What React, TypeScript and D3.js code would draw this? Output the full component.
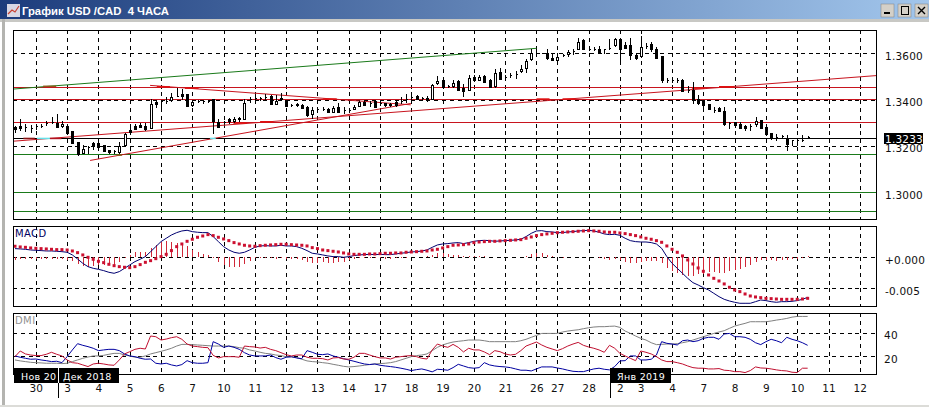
import React, { useRef, useEffect } from "react";
import * as d3 from "d3";

const width = 929;
const height = 407;

// candles, one every 4 hours
const opens = [
  1.3279,1.3283,1.3279,1.3276,1.3283,1.3286,1.3298,1.3302,1.3298,1.3286,
  1.3286,1.3262,1.3214,1.3168,1.3195,1.3210,1.3213,1.3203,1.3183,1.3175,
  1.3172,1.3203,1.3266,1.3283,1.3288,1.3286,1.3276,1.3387,1.3391,1.3391,
  1.3396,1.3416,1.3424,1.3422,1.3374,1.3391,1.3393,1.3394,1.3399,1.3302,
  1.3301,1.3316,1.3305,1.3315,1.3315,1.3399,1.3406,1.3404,1.3409,1.3412,
  1.3381,1.3407,1.3397,1.3376,1.3381,1.3377,1.3367,1.3338,1.3358,1.3360,
  1.3360,1.3347,1.3367,1.3355,1.3354,1.3358,1.3373,1.3390,1.3384,1.3393,
  1.3384,1.3384,1.3381,1.3387,1.3394,1.3401,1.3410,1.3416,1.3406,1.3404,
  1.3401,1.3468,1.3485,1.3458,1.3459,1.3478,1.3449,1.3439,1.3498,1.3485,
  1.3502,1.3482,1.3456,1.3518,1.3498,1.3505,1.3511,1.3520,1.3537,1.3574,
  1.3600,1.3600,1.3600,1.3580,1.3571,1.3589,1.3596,1.3607,1.3619,1.3655,
  1.3619,1.3619,1.3617,1.3615,1.3623,1.3635,1.3661,1.3632,1.3636,1.3593,
  1.3586,1.3629,1.3638,1.3619,1.3586,1.3485,1.3484,1.3485,1.3485,1.3439,
  1.3439,1.3401,1.3396,1.3380,1.3355,1.3363,1.3351,1.3298,1.3301,1.3295,
  1.3285,1.3283,1.3292,1.3309,1.3279,1.3255,1.3237,1.3240,1.3229,1.3222,
  1.3222,1.3226,1.3236,
];
const closes = [
  1.3272,1.3275,1.3279,1.3276,1.3283,1.3286,1.3298,1.3302,1.3282,1.3295,
  1.3255,1.3211,1.3165,1.3187,1.3195,1.3197,1.3196,1.3175,1.3171,1.3171,
  1.3197,1.3252,1.3257,1.3273,1.3282,1.3272,1.3381,1.3378,1.3391,1.3391,
  1.3410,1.3416,1.3416,1.3370,1.3388,1.3391,1.3393,1.3394,1.3305,1.3279,
  1.3301,1.3304,1.3316,1.3321,1.3384,1.3399,1.3406,1.3404,1.3409,1.3378,
  1.3394,1.3399,1.3373,1.3376,1.3374,1.3364,1.3334,1.3355,1.3358,1.3360,
  1.3344,1.3363,1.3344,1.3355,1.3354,1.3368,1.3390,1.3377,1.3384,1.3367,
  1.3384,1.3377,1.3374,1.3376,1.3394,1.3401,1.3410,1.3401,1.3406,1.3396,
  1.3462,1.3479,1.3453,1.3458,1.3472,1.3442,1.3435,1.3491,1.3481,1.3496,
  1.3476,1.3453,1.3514,1.3489,1.3498,1.3505,1.3511,1.3531,1.3566,1.3600,
  1.3600,1.3600,1.3577,1.3568,1.3583,1.3589,1.3604,1.3607,1.3648,1.3615,
  1.3619,1.3619,1.3606,1.3615,1.3623,1.3658,1.3617,1.3623,1.3589,1.3580,
  1.3626,1.3629,1.3615,1.3579,1.3481,1.3485,1.3484,1.3485,1.3437,1.3439,
  1.3399,1.3383,1.3376,1.3357,1.3355,1.3348,1.3292,1.3298,1.3291,1.3278,
  1.3276,1.3283,1.3306,1.3275,1.3252,1.3232,1.3237,1.3240,1.3208,1.3222,
  1.3222,1.3226,1.3236,
];
const highs = [
  1.3286,1.3315,1.3295,1.3291,1.3291,1.3295,1.3309,1.3327,1.3338,1.3309,
  1.3286,1.3266,1.3219,1.3204,1.3200,1.3219,1.3219,1.3204,1.3185,1.3185,
  1.3219,1.3257,1.3283,1.3295,1.3301,1.3301,1.3404,1.3399,1.3399,1.3410,
  1.3427,1.3450,1.3448,1.3424,1.3391,1.3399,1.3399,1.3399,1.3399,1.3315,
  1.3309,1.3321,1.3325,1.3325,1.3404,1.3413,1.3416,1.3413,1.3423,1.3420,
  1.3419,1.3427,1.3401,1.3381,1.3388,1.3381,1.3373,1.3367,1.3367,1.3367,
  1.3363,1.3373,1.3384,1.3367,1.3363,1.3376,1.3393,1.3393,1.3393,1.3399,
  1.3390,1.3387,1.3387,1.3394,1.3410,1.3423,1.3420,1.3420,1.3413,1.3416,
  1.3468,1.3502,1.3488,1.3465,1.3485,1.3485,1.3468,1.3508,1.3505,1.3508,
  1.3508,1.3488,1.3534,1.3535,1.3507,1.3517,1.3525,1.3548,1.3574,1.3617,
  1.3617,1.3603,1.3617,1.3600,1.3600,1.3597,1.3615,1.3617,1.3666,1.3661,
  1.3632,1.3626,1.3632,1.3621,1.3664,1.3666,1.3664,1.3649,1.3666,1.3600,
  1.3675,1.3643,1.3649,1.3626,1.3589,1.3494,1.3491,1.3494,1.3488,1.3459,
  1.3476,1.3420,1.3401,1.3381,1.3370,1.3370,1.3370,1.3305,1.3305,1.3305,
  1.3292,1.3295,1.3324,1.3312,1.3283,1.3258,1.3252,1.3249,1.3249,1.3226,
  1.3226,1.3246,1.3243,
];
const lows = [
  1.3257,1.3266,1.3259,1.3257,1.3269,1.3276,1.3286,1.3295,1.3279,1.3279,
  1.3252,1.3208,1.3157,1.3165,1.3165,1.3185,1.3193,1.3174,1.3165,1.3165,
  1.3165,1.3200,1.3252,1.3269,1.3278,1.3266,1.3272,1.3363,1.3352,1.3381,
  1.3391,1.3410,1.3399,1.3367,1.3370,1.3384,1.3381,1.3387,1.3252,1.3276,
  1.3295,1.3295,1.3301,1.3305,1.3312,1.3384,1.3396,1.3394,1.3399,1.3376,
  1.3377,1.3396,1.3370,1.3367,1.3367,1.3361,1.3324,1.3319,1.3341,1.3351,
  1.3341,1.3341,1.3341,1.3338,1.3341,1.3355,1.3370,1.3373,1.3370,1.3363,
  1.3373,1.3370,1.3370,1.3370,1.3381,1.3387,1.3399,1.3399,1.3399,1.3391,
  1.3399,1.3463,1.3450,1.3450,1.3450,1.3436,1.3413,1.3436,1.3476,1.3482,
  1.3473,1.3449,1.3449,1.3485,1.3485,1.3494,1.3491,1.3517,1.3517,1.3568,
  1.3589,1.3597,1.3571,1.3568,1.3568,1.3583,1.3586,1.3592,1.3615,1.3615,
  1.3609,1.3609,1.3600,1.3597,1.3615,1.3629,1.3560,1.3617,1.3571,1.3571,
  1.3579,1.3617,1.3607,1.3574,1.3471,1.3471,1.3473,1.3473,1.3433,1.3427,
  1.3381,1.3378,1.3352,1.3355,1.3344,1.3346,1.3286,1.3275,1.3280,1.3275,
  1.3266,1.3266,1.3283,1.3272,1.3243,1.3226,1.3223,1.3232,1.3178,1.3200,
  1.3200,1.3219,1.3229,
];

// MACD panel, in thousandths
const macdLine = [
  1.40,1.35,1.29,1.18,1.13,1.08,1.02,1.02,0.97,0.91,
  0.81,0.38,-0.27,-0.97,-1.51,-1.78,-1.94,-2.15,-2.42,-2.58,
  -2.31,-1.78,-1.24,-0.70,-0.32,0.11,0.91,1.72,2.53,3.07,
  3.60,3.98,4.25,4.36,4.14,4.04,3.98,3.98,3.34,2.53,
  1.72,1.18,0.81,0.65,0.81,1.18,1.61,1.83,1.88,1.83,
  1.83,1.94,1.83,1.83,1.72,1.45,1.08,
  0.65,0.54,0.38,0.22,0.11,0.11,0,0.11,0.27,0.38,
  0.43,0.48,0.43,0.48,0.43,0.43,0.54,0.65,0.75,0.86,
  0.91,1.02,1.18,1.61,1.99,2.15,2.21,2.31,2.37,2.21,
  2.37,2.58,2.69,2.74,2.69,2.58,2.64,2.69,2.74,2.80,
  2.91,3.34,3.87,4.25,4.30,4.14,4.09,3.98,3.98,4.09,
  4.14,4.25,4.30,4.36,4.25,4.04,3.77,3.66,3.71,3.55,
  3.07,2.69,2.53,2.47,2.47,2.37,2.15,1.45,0.11,-0.97,
  -1.78,-2.58,-3.39,-4.09,-4.47,-4.90,-5.27,-5.81,-6.35,-6.78,
  -7.05,-7.26,-7.42,-7.42,-7.42,-7.16,-6.89,-6.99,-7.16,-7.26,
  -7.16,-7.16,-7.10,-6.99,-6.78,-6.46,
];
const macdSignal = [
  1.78,1.67,1.61,1.51,1.45,1.40,1.35,1.29,1.24,1.24,
  1.18,1.02,0.75,0.38,0,-0.32,-0.65,-0.86,-1.13,-1.35,
  -1.51,-1.61,-1.67,-1.51,-1.18,-0.81,-0.54,-0.22,0.11,0.48,
  1.08,1.72,2.15,2.58,2.91,3.23,3.44,3.66,3.50,3.23,
  2.96,2.69,2.37,2.15,1.94,1.83,1.78,1.88,1.94,1.99,
  2.04,2.10,2.10,2.04,1.99,1.94,1.83,
  1.56,1.40,1.18,1.08,0.97,0.86,0.70,0.54,0.48,0.48,
  0.48,0.54,0.54,0.59,0.65,0.65,0.70,0.70,0.81,0.86,
  0.91,0.97,1.02,1.18,1.29,1.51,1.72,1.94,1.99,2.04,
  2.15,2.37,2.47,2.53,2.58,2.58,2.64,2.69,2.74,2.80,
  2.85,3.07,3.28,3.50,3.66,3.77,3.87,3.98,4.04,4.09,
  4.14,4.20,4.25,4.30,4.25,4.20,4.09,4.04,4.04,3.93,
  3.82,3.66,3.50,3.28,3.07,2.91,2.69,2.42,1.83,1.29,
  0.81,0.22,-0.43,-1.08,-1.72,-2.26,-2.85,-3.39,-3.82,-4.30,
  -4.84,-5.27,-5.54,-5.92,-6.24,-6.40,-6.51,-6.62,-6.67,-6.73,
  -6.78,-6.78,-6.78,-6.78,-6.73,-6.62,
];

// DMI panel
const plusDI = [
  20.3,19.2,18.3,17.5,17.7,16.9,16.3,15.5,15.8,14.6,
  19.7,25.4,30.7,29.3,28.2,26.8,24.8,25.4,25.9,25.9,
  24.8,22,20.3,19.7,18.3,17.5,17.7,14.1,13.5,14.1,
  12.7,11.8,13,16.3,14.6,14.1,14.1,14.6,32.4,30.4,
  27.6,28.7,27.6,25.9,23.1,21.1,20.3,20.3,20.3,21.1,
  18.9,17.5,19.2,19.7,18.6,18,24.8,
  23.4,21.7,21.4,22,20.3,19.2,18,16.9,15.8,14.6,
  13.5,13,13.5,12.4,11.8,11.3,10.7,9.9,9,7.9,
  8.7,9.3,8.2,6.8,9,8.7,8.2,10.4,13.2,11.8,
  10.4,9.9,10.4,14.6,12.7,11.8,11.3,11,10.4,9.3,
  8.2,8.2,7.6,9.3,11,11,11,10.1,9.3,8.2,
  7.3,7,7,8.2,9.3,9.9,9,8.5,11.3,16.1,
  16.3,20.3,20.3,16.9,16.9,17.5,21.1,32.4,31,30.4,
  29.6,33.2,33.8,32.4,33.2,35.2,36.1,36.1,34.4,38.9,
  39.4,36.6,36.6,36.1,34.4,31.5,29.9,32.4,34.4,33.2,
  31.5,36.1,34.4,33.2,31.5,29.3,
];
const minusDI = [
  19.7,24.5,22,21.1,20.6,20.6,21.7,23.4,21.7,20.3,
  16.9,14.6,14.1,12.7,11.3,13.5,14.1,13.5,12.7,12.4,
  16.9,22,23.9,25.9,26.8,26.2,37.2,36.6,33.8,34.6,
  35.8,36.6,34.4,30.4,28.7,28.2,27.6,27.3,20.8,18.6,
  19.7,19.7,19.7,19.2,28.7,28.2,27.9,27,27.6,25.9,
  24.8,23.1,21.4,20.3,21.1,21.1,19.2,
  18.3,18.3,18,16.9,18.6,18.9,17.7,17.5,19.2,22.5,
  22.5,21.1,19.7,18.6,18.6,17.7,19.2,19.7,20.3,20.6,
  19.7,18.3,17.7,25.4,30.4,28.7,27.6,30.1,27.6,23.7,
  26.8,25.4,25.4,23.7,21.4,24.8,23.9,22,21.1,21.7,
  24.8,28.7,30.4,32.1,29.6,27.6,26.2,24.8,26.5,28.7,
  30.4,31.8,29.3,27.9,26.8,25.4,23.4,29.3,26.8,22.5,
  20.3,18.3,16.3,24.5,23.4,22,19.7,16.9,15.5,15.5,
  14.6,13.5,11.8,10.4,9.9,9.9,9.3,9.3,9.6,8.2,
  7.9,7,7,6.2,7.9,11,10.1,9.9,9.3,8.5,
  7.9,7.6,6.5,6.2,9.9,9.9,
];
const adx = [
  16.9,16.1,15.5,14.9,14.6,14.4,14.1,14.1,14.1,13.8,
  14.1,15.5,16.9,18.3,19.4,20.3,20.3,20.8,21.7,22.5,
  22.5,21.1,20.3,19.2,19.2,20.3,22,23.1,24.2,25.4,
  26.8,28.7,30.1,30.1,29.9,29.6,29.3,29,28.7,28.7,
  28.7,28.7,28.2,27.3,26.8,25.4,24.5,23.4,22.5,22,
  21.1,20.6,19.7,19.4,18.9,17.5,16.1,
  15.5,15.2,14.6,14.1,13.2,12.4,11.5,11,11.3,11.8,
  12.4,13,13.5,13.8,14.1,14.6,15.5,16.9,18.3,19.7,
  20.6,21.1,22,24.8,27.6,29.6,31,32.1,32.7,33.2,
  33.8,33.8,33.8,33.2,32.4,32.4,32.4,32.4,32.4,32.4,
  33.2,34.4,36.1,37.7,39.4,39.4,39.4,39.4,40.6,41.4,
  42,42.5,43.4,44.2,44.8,45.1,45.1,45.4,45.6,44.5,
  41.4,39.4,37.2,35.2,33.8,31.5,29.9,30.1,30.4,30.4,
  30.7,31.5,32.4,33.8,35.2,36.6,38,39.4,40.6,41.7,
  43.7,45.6,46.8,47.9,49.3,49.3,49.3,49.3,49.9,50.7,
  51.3,52.1,53.2,53.8,53.8,53.8,
];

// time axis: candle index of each day and its label
const dayIndex = [4,10,16,22,28,34,40,46,52,58,64,70,76,82,88,94,100,104,110,116,120,126,132,138,144,150,156,162];
const dayLabels = ["30","3","4","5","6","7","10","11","12","13","14","17","18","19","20","21","26","27","28","2","3","4","7","8","9","10","11","12"];

const priceTicks = [1.36, 1.34, 1.32, 1.30];
const macdTicks = [0, -5];
const dmiTicks = [40, 20];

// drawn levels and trend lines
const redLevels = [1.3453, 1.3402, 1.3302];
const greenLevels = [1.3164, 1.3, 1.2918];
const lastPrice = 1.3233;
const trendLines = [
  { from: [-0.4, 1.3446], to: [100, 1.3622], color: "#1a7a1a" },
  { from: [-0.4, 1.3221], to: [165.6, 1.3505], color: "#c8141e" },
  { from: [14.4, 1.3138], to: [75.9, 1.3384], color: "#c8141e" },
  { from: [25.9, 1.3462], to: [75.9, 1.3378], color: "#c8141e" },
];

// short coloured stretches where the drawn lines cross
const accents = [
  { from: 1.6, to: 3.8, price: 1.3233, color: "#8a1414" },
  { from: 4.2, to: 6.7, price: 1.3233, color: "#66e0e8" },
  { from: 6.7, to: 8.9, price: 1.3233, color: "#b01420" },
  { from: 37.4, to: 38.5, price: 1.3233, color: "#66e0e8" },
  { from: 5.4, to: 7.9, price: 1.3458, color: "#8b5a1a" },
  { from: 19.5, to: 20.5, price: 1.3161, color: "#8b5a1a" },
  { from: 27.2, to: 29.7, price: 1.3456, color: "#e01010" },
  { from: 32.6, to: 35.2, price: 1.345, color: "#e01010" },
  { from: 41.9, to: 44.4, price: 1.3299, color: "#e01010" },
  { from: 47, to: 49.5, price: 1.3305, color: "#e01010" },
  { from: 59.1, to: 61.7, price: 1.3403, color: "#e01010" },
  { from: 100, to: 102.5, price: 1.3403, color: "#e01010" },
  { from: 105, to: 107.4, price: 1.3403, color: "#e01010" },
  { from: 129.8, to: 132.3, price: 1.345, color: "#e01010" },
  { from: 135, to: 137.8, price: 1.3456, color: "#e01010" },
];

const left = 13;
const right = 877;
const font = "'DejaVu Sans', sans-serif";

export default function App() {
  const ref = useRef<SVGSVGElement | null>(null);

  useEffect(() => {
    const svg = d3.select(ref.current);
    svg.selectAll("*").remove();

    const x = d3.scaleLinear().domain([0, 162]).range([15, 859.8]);
    const yPrice = d3.scaleLinear().domain([1.2881, 1.3701]).range([220, 30]);
    const yMacd = d3.scaleLinear().domain([-8.02, 5.05]).range([307, 226]);
    const yDmi = d3.scaleLinear().domain([4.15, 56.7]).range([375, 313]);

    // window frame
    svg.append("rect").attr("width", width).attr("height", height).attr("fill", "#ffffff");
    const grad = svg.append("defs").append("linearGradient").attr("id", "title");
    grad.append("stop").attr("offset", "0").attr("stop-color", "#1c3c7c");
    grad.append("stop").attr("offset", "1").attr("stop-color", "#a2c6ec");
    svg.append("rect").attr("width", width).attr("height", 19).attr("fill", "url(#title)");
    svg.append("rect").attr("y", 19).attr("width", width).attr("height", 3).attr("fill", "#c8c8c4");
    svg.append("rect").attr("x", 2).attr("y", 19).attr("width", 3).attr("height", 386).attr("fill", "#b4b4b0");
    svg.append("rect").attr("y", 405).attr("width", width).attr("height", 2).attr("fill", "#dcdcd8");

    // title icon
    svg.append("rect").attr("x", 7).attr("y", 4).attr("width", 13).attr("height", 13).attr("fill", "#d8d8e4");
    svg.append("path").attr("d", "M8,14L12,10L15,12L19,6").attr("fill", "none").attr("stroke", "#c84030").attr("stroke-width", 1.2);
    svg.append("text").attr("x", 22).attr("y", 14.5).attr("fill", "#ffffff")
      .attr("font-family", "'Liberation Sans', sans-serif").attr("font-weight", "bold").attr("font-size", 11.3)
      .attr("xml:space", "preserve").style("white-space", "pre")
      .text("График USD /CAD  4 ЧАСА");

    // window buttons
    [881, 898, 915].forEach((bx) => {
      svg.append("rect").attr("x", bx).attr("y", 4).attr("width", 13).attr("height", 13)
        .attr("fill", "#d4d0c8").attr("stroke", "#808080").attr("stroke-width", 0.5);
    });
    svg.append("rect").attr("x", 884).attr("y", 12).attr("width", 6).attr("height", 2).attr("fill", "#000");
    svg.append("rect").attr("x", 901.5).attr("y", 6.5).attr("width", 7).attr("height", 8)
      .attr("fill", "none").attr("stroke", "#000");
    svg.append("path").attr("d", "M918,7L925,14M925,7L918,14").attr("stroke", "#000").attr("stroke-width", 1.4);

    svg.append("clipPath").attr("id", "main").append("rect")
      .attr("x", left).attr("y", 30).attr("width", right - left).attr("height", 190);
    svg.append("clipPath").attr("id", "macd").append("rect")
      .attr("x", left).attr("y", 226).attr("width", right - left).attr("height", 81);
    svg.append("clipPath").attr("id", "dmi").append("rect")
      .attr("x", left).attr("y", 313).attr("width", right - left).attr("height", 62);

    const panels = [
      { top: 30, bottom: 220, scale: yPrice, ticks: priceTicks },
      { top: 226, bottom: 307, scale: yMacd, ticks: macdTicks },
      { top: 313, bottom: 375, scale: yDmi, ticks: dmiTicks },
    ];

    // dashed grid
    panels.forEach((p) => {
      const grid = svg.append("g").attr("stroke", "#000").attr("stroke-dasharray", "4,3.8")
        .attr("shape-rendering", "crispEdges");
      dayIndex.forEach((d) => {
        const gx = Math.round(x(d)) + 0.5;
        grid.append("line").attr("x1", gx).attr("x2", gx).attr("y1", p.top).attr("y2", p.bottom);
      });
      p.ticks.forEach((t: number) => {
        const gy = Math.round(p.scale(t)) + 0.5;
        grid.append("line").attr("x1", left).attr("x2", right).attr("y1", gy).attr("y2", gy);
      });
    });

    // levels
    const main = svg.append("g").attr("clip-path", "url(#main)");
    const level = (v: number, color: string) => {
      const ly = Math.round(yPrice(v)) + 0.5;
      main.append("line").attr("x1", left).attr("x2", right).attr("y1", ly).attr("y2", ly)
        .attr("stroke", color).attr("shape-rendering", "crispEdges");
    };
    greenLevels.forEach((v) => level(v, "#1a7a1a"));
    level(lastPrice, "#000000");
    redLevels.forEach((v) => level(v, "#c8141e"));

    trendLines.forEach((t) => {
      main.append("line")
        .attr("x1", x(t.from[0])).attr("y1", yPrice(t.from[1]))
        .attr("x2", x(t.to[0])).attr("y2", yPrice(t.to[1]))
        .attr("stroke", t.color).attr("stroke-width", 1);
    });

    accents.forEach((a) => {
      main.append("line").attr("x1", x(a.from)).attr("x2", x(a.to))
        .attr("y1", yPrice(a.price)).attr("y2", yPrice(a.price))
        .attr("stroke", a.color).attr("stroke-width", 1.5);
    });

    // candles
    const candles = main.append("g").attr("shape-rendering", "crispEdges");
    opens.forEach((o, i) => {
      const c = closes[i];
      const cx = Math.round(x(i)) + 0.5;
      candles.append("line").attr("x1", cx).attr("x2", cx)
        .attr("y1", yPrice(highs[i])).attr("y2", yPrice(lows[i])).attr("stroke", "#000");
      const top = yPrice(Math.max(o, c));
      const bottom = yPrice(Math.min(o, c));
      if (bottom - top < 1) {
        candles.append("line").attr("x1", cx - 1).attr("x2", cx + 1).attr("y1", top).attr("y2", top)
          .attr("stroke", "#000");
      } else {
        candles.append("rect").attr("x", cx - 1).attr("width", 2)
          .attr("y", top).attr("height", bottom - top)
          .attr("fill", c >= o ? "#ffffff" : "#000000").attr("stroke", "#000");
      }
    });

    // MACD
    const macdG = svg.append("g").attr("clip-path", "url(#macd)");
    macdLine.forEach((m, i) => {
      const bx = Math.round(x(i)) + 0.5;
      macdG.append("line").attr("x1", bx).attr("x2", bx)
        .attr("y1", yMacd(0)).attr("y2", yMacd(m - macdSignal[i]))
        .attr("stroke", "#d02838").attr("shape-rendering", "crispEdges");
    });
    const macdPath = d3.line<number>().x((_, i) => x(i)).y((d) => yMacd(d));
    macdG.append("path").attr("d", macdPath(macdLine)).attr("fill", "none").attr("stroke", "#000070");
    macdSignal.forEach((s, i) => {
      macdG.append("rect").attr("x", x(i) - 1.5).attr("y", yMacd(s) - 1.5)
        .attr("width", 3).attr("height", 3).attr("fill", "#cc1030");
    });

    // DMI
    const dmiG = svg.append("g").attr("clip-path", "url(#dmi)");
    const dmiPath = d3.line<number>().x((_, i) => x(i)).y((d) => yDmi(d));
    dmiG.append("path").attr("d", dmiPath(adx)).attr("fill", "none").attr("stroke", "#808080");
    dmiG.append("path").attr("d", dmiPath(plusDI)).attr("fill", "none").attr("stroke", "#0000a0");
    dmiG.append("path").attr("d", dmiPath(minusDI)).attr("fill", "none").attr("stroke", "#c01030");

    // panel borders
    panels.forEach((p) => {
      svg.append("rect").attr("x", left + 0.5).attr("y", p.top + 0.5)
        .attr("width", right - left - 1).attr("height", p.bottom - p.top - 1)
        .attr("fill", "none").attr("stroke", "#000").attr("shape-rendering", "crispEdges");
    });

    svg.append("text").attr("x", 15).attr("y", 237).attr("font-family", font).attr("font-size", 10)
      .attr("letter-spacing", 0.4).attr("fill", "#000060").text("MACD");
    svg.append("text").attr("x", 15).attr("y", 324).attr("font-family", font).attr("font-size", 10)
      .attr("letter-spacing", 0.4).attr("fill", "#909090").text("DMI");

    // right axes
    const styleAxis = (g: any) => {
      g.select(".domain").remove();
      g.selectAll("text").attr("font-family", font).attr("font-size", 10.5).attr("fill", "#101010")
        .attr("letter-spacing", 0.2).attr("text-anchor", "start");
    };
    svg.append("g").attr("transform", `translate(${right + 8},2.5)`)
      .call(d3.axisRight(yPrice).tickValues(priceTicks).tickSize(0).tickPadding(0).tickFormat(d3.format(".4f")) as any)
      .call(styleAxis);
    svg.append("g").attr("transform", `translate(${right + 8},2.5)`)
      .call(d3.axisRight(yMacd).tickValues(macdTicks).tickSize(0).tickPadding(0)
        .tickFormat((d) => (+d === 0 ? "+0.000" : "-0.005")) as any)
      .call(styleAxis);
    svg.append("g").attr("transform", `translate(${right + 7},2.5)`)
      .call(d3.axisRight(yDmi).tickValues(dmiTicks).tickSize(0).tickPadding(0) as any)
      .call(styleAxis);

    // last price tag
    svg.append("rect").attr("x", 884).attr("y", 133).attr("width", 39).attr("height", 11).attr("fill", "#000");
    svg.append("text").attr("x", 885).attr("y", 142.5).attr("font-family", font).attr("font-size", 10.5)
      .attr("letter-spacing", 0.2).attr("fill", "#fff").text(d3.format(".4f")(lastPrice));

    // bottom time axis
    const axisX = svg.append("g").attr("transform", "translate(0,385)")
      .call(d3.axisBottom(x).tickValues(dayIndex).tickSize(0).tickPadding(0)
        .tickFormat((_, i) => dayLabels[i]) as any);
    axisX.select(".domain").remove();
    axisX.selectAll("text").attr("font-family", font).attr("font-size", 10.5).attr("fill", "#101010").attr("letter-spacing", 0.2);

    // month tags
    svg.append("rect").attr("x", 14).attr("y", 368).attr("width", 105).attr("height", 15).attr("fill", "#000");
    svg.append("rect").attr("x", 611).attr("y", 368).attr("width", 60).attr("height", 15).attr("fill", "#000");
    svg.append("line").attr("x1", 58.5).attr("x2", 58.5).attr("y1", 368).attr("y2", 398).attr("stroke", "#000");
    svg.append("line").attr("x1", 58.5).attr("x2", 58.5).attr("y1", 368).attr("y2", 383).attr("stroke", "#fff");
    svg.append("line").attr("x1", 610.5).attr("x2", 610.5).attr("y1", 368).attr("y2", 398).attr("stroke", "#000");
    const tag = (tx: number, label: string) => {
      svg.append("text").attr("x", tx).attr("y", 379.5).attr("font-family", font).attr("font-size", 9.5)
        .attr("letter-spacing", 0.3).attr("fill", "#fff").text(label);
    };
    tag(21, "Нов 20");
    tag(63, "Дек 2018");
    tag(617, "Янв 2019");
  }, []);

  return (
    <svg
      ref={ref}
      width={width}
      height={height}
      style={{ position: "absolute", left: 0, top: 0, display: "block" }}
    />
  );
}
